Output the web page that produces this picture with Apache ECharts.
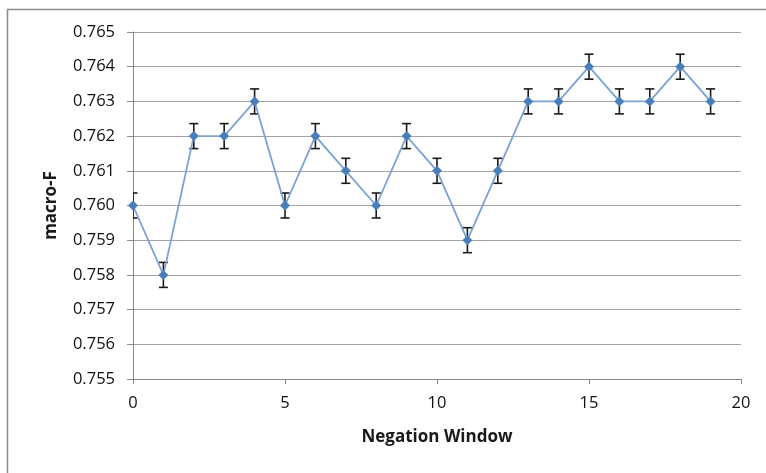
<!DOCTYPE html>
<html>
<head>
<meta charset="utf-8">
<script src="https://cdn.jsdelivr.net/npm/echarts@6/dist/echarts.min.js"></script>
<style>
html,body{margin:0;padding:0;background:#fff;}
#chart{width:766px;height:473px;}
</style>
</head>
<body>
<div id="chart"></div>
<script>
const windows = [0,1,2,3,4,5,6,7,8,9,10,11,12,13,14,15,16,17,18,19];
const macroF = [0.760,0.758,0.762,0.762,0.763,0.760,0.762,0.761,0.760,0.762,0.761,0.759,0.761,0.763,0.763,0.764,0.763,0.763,0.764,0.763];
const errors = [0.00036,0.00036,0.00036,0.00036,0.00036,0.00036,0.00036,0.00036,0.00036,0.00036,0.00036,0.00036,0.00036,0.00036,0.00036,0.00036,0.00036,0.00036,0.00036,0.00036];
const xTitle = 'Negation Window';
const yTitle = 'macro-F';

const FONT = '"Open Sans", "Liberation Sans", sans-serif';
const chart = echarts.init(document.getElementById('chart'), null, {renderer:'canvas'});

const lineData = windows.map((x,i)=>[x, macroF[i]]);
const errData = windows.map((x,i)=>[x, macroF[i]-errors[i], macroF[i]+errors[i]]);

chart.setOption({
  animation:false,
  backgroundColor:'#fff',
  graphic:[{
    type:'rect', z:-1,
    shape:{x:7.5,y:9.5,width:900,height:600},
    style:{fill:'none',stroke:'#8c8c8c',lineWidth:1.5}
  }],
  grid:{left:133,right:25,top:32,bottom:94},
  xAxis:{
    type:'value', min:0, max:20, interval:5,
    name:xTitle, nameLocation:'middle', nameGap:50,
    nameTextStyle:{fontFamily:FONT,fontWeight:'bold',fontSize:17,color:'#1a1a1a'},
    axisLine:{show:true,lineStyle:{color:'#868686',width:1}},
    axisTick:{show:true,length:5,inside:false,lineStyle:{color:'#868686'}},
    axisLabel:{fontFamily:FONT,fontSize:16.5,color:'#111',margin:16},
    splitLine:{show:false}
  },
  yAxis:{
    type:'value', min:0.755, max:0.765, interval:0.001,
    name:yTitle, nameLocation:'middle', nameGap:73, nameRotate:90,
    nameTextStyle:{fontFamily:FONT,fontWeight:'bold',fontSize:17,color:'#1a1a1a'},
    axisLine:{show:true,lineStyle:{color:'#868686',width:1}},
    axisTick:{show:true,length:6,inside:false,lineStyle:{color:'#868686'}},
    axisLabel:{fontFamily:FONT,fontSize:16.5,color:'#111',margin:18,
      formatter:v=>v.toFixed(3)},
    splitLine:{show:true,lineStyle:{color:'#a3a3a3',width:1.2}}
  },
  series:[
    {
      type:'custom',
      clip:true,
      z:3,
      data:errData,
      renderItem:function(params,api){
        const x = api.value(0);
        const lo = api.coord([x, api.value(1)]);
        const hi = api.coord([x, api.value(2)]);
        const hw = 4.5;
        const st = {stroke:'#1a1a1a',lineWidth:1.6,fill:null};
        return {type:'group',children:[
          {type:'line',shape:{x1:lo[0],y1:lo[1],x2:hi[0],y2:hi[1]},style:st},
          {type:'line',shape:{x1:lo[0]-hw,y1:lo[1],x2:lo[0]+hw,y2:lo[1]},style:st},
          {type:'line',shape:{x1:hi[0]-hw,y1:hi[1],x2:hi[0]+hw,y2:hi[1]},style:st}
        ]};
      }
    },
    {
      type:'line',
      data:lineData,
      z:4,
      symbol:'diamond',
      symbolSize:10,
      lineStyle:{color:'#7aa2d4',width:1.8},
      itemStyle:{color:'#4a7ebb'}
    }
  ]
});
</script>
</body>
</html>
